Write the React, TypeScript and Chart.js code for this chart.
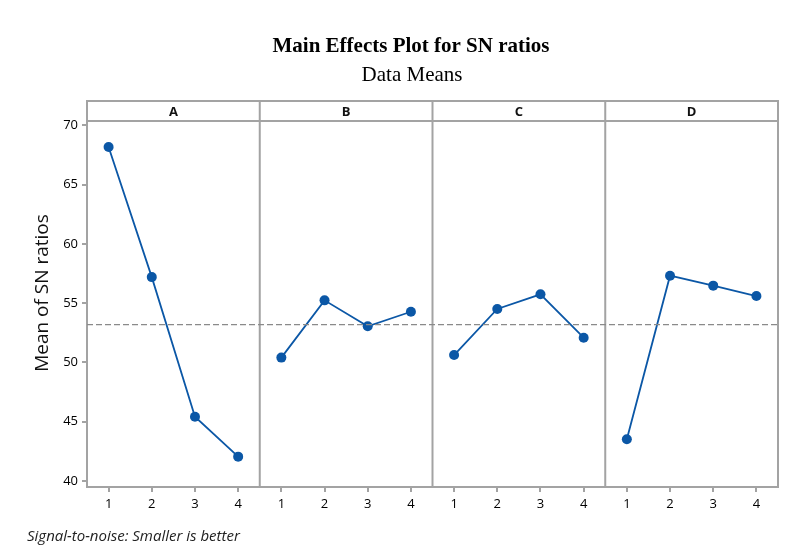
import React, { useEffect, useRef } from "react";
import { Chart, registerables } from "chart.js";

Chart.register(...registerables);

const titleText = "Main Effects Plot for SN ratios";
const subtitleText = "Data Means";
const yAxisTitle = "Mean of SN ratios";
const footnote = "Signal-to-noise: Smaller is better";

const factors = ["A", "B", "C", "D"];
const levels = ["1", "2", "3", "4"];
const meansA = [68.17, 57.2, 45.43, 42.06];
const meansB = [50.41, 55.24, 53.05, 54.28];
const meansC = [50.63, 54.51, 55.75, 52.09];
const meansD = [43.52, 57.32, 56.48, 55.6];
const seriesMeans = [meansA, meansB, meansC, meansD];
const grandMean = 53.19;
const yTicks = [40, 45, 50, 55, 60, 65, 70];

const BLUE = "#0b57a6";
const FRAME = "#a3a3a3";

export default function App() {
  const ref = useRef<HTMLCanvasElement | null>(null);

  useEffect(() => {
    if (!ref.current) return;
    const n = levels.length;
    const xMin = 0.5;
    const xMax = factors.length * n + 0.5;
    const tickPositions = factors.flatMap((_, i) => levels.map((_, j) => i * n + j + 1));

    const datasets: any[] = seriesMeans.map((vals, i) => ({
      label: factors[i],
      data: vals.map((v, j) => ({ x: i * n + j + 1, y: v })),
      borderColor: BLUE,
      backgroundColor: BLUE,
      borderWidth: 1.8,
      pointRadius: 5,
      pointBorderWidth: 0,
      pointBackgroundColor: BLUE,
      tension: 0,
    }));
    datasets.unshift({
      label: "mean",
      data: [
        { x: xMin, y: grandMean },
        { x: xMax, y: grandMean },
      ],
      borderColor: "#8a8a8a",
      borderWidth: 1.4,
      borderDash: [6, 3],
      pointRadius: 0,
    });

    const panelPlugin = {
      id: "panels",
      beforeDatasetsDraw(chart: any) {
        const ctx = chart.ctx;
        const { left, right, top, bottom } = chart.chartArea;
        const xs = chart.scales.x;
        const headerH = 20;
        ctx.save();
        ctx.strokeStyle = FRAME;
        ctx.lineWidth = 2;
        ctx.strokeRect(left, top, right - left, bottom - top);
        ctx.beginPath();
        ctx.moveTo(left, top + headerH);
        ctx.lineTo(right, top + headerH);
        for (let i = 1; i < factors.length; i++) {
          const px = xs.getPixelForValue(i * n + 0.5);
          ctx.moveTo(px, top);
          ctx.lineTo(px, bottom);
        }
        ctx.stroke();
        ctx.fillStyle = "#111";
        ctx.font = "bold 13px 'Open Sans', sans-serif";
        ctx.textAlign = "center";
        ctx.textBaseline = "middle";
        factors.forEach((f, i) => {
          const cx = xs.getPixelForValue(i * n + (n + 1) / 2);
          ctx.fillText(f, cx, top + headerH / 2 + 1);
        });
        ctx.restore();
      },
      afterDraw(chart: any) {
        const ctx = chart.ctx;
        ctx.save();
        ctx.fillStyle = "#000";
        ctx.textAlign = "center";
        ctx.textBaseline = "middle";
        ctx.font = "bold 21px 'Liberation Serif', 'Times New Roman', serif";
        ctx.fillText(titleText, 411, 47);
        ctx.font = "21px 'Liberation Serif', 'Times New Roman', serif";
        ctx.fillText(subtitleText, 412, 75);
        ctx.save();
        ctx.translate(43, 293);
        ctx.rotate(-Math.PI / 2);
        ctx.font = "19px 'Open Sans', sans-serif";
        ctx.fillStyle = "#111";
        ctx.fillText(yAxisTitle, 0, 0);
        ctx.restore();
        ctx.textAlign = "left";
        ctx.font = "italic 15px 'Open Sans', sans-serif";
        ctx.fillStyle = "#222";
        ctx.fillText(footnote, 27, 537);
        ctx.restore();
      },
    };

    const chart = new Chart(ref.current, {
      type: "line",
      data: { datasets },
      options: {
        animation: false,
        responsive: false,
        maintainAspectRatio: false,
        layout: { padding: { top: 101, left: 0, right: 26, bottom: 34 } },
        plugins: { legend: { display: false }, tooltip: { enabled: false }, title: { display: false } },
        scales: {
          x: {
            type: "linear",
            min: xMin,
            max: xMax,
            afterBuildTicks: (scale: any) => {
              scale.ticks = tickPositions.map((v) => ({ value: v }));
            },
            afterFit: (scale: any) => {
              scale.height = 30;
            },
            ticks: {
              autoSkip: false,
              maxRotation: 0,
              padding: 4,
              color: "#000",
              font: { family: "'Open Sans', sans-serif", size: 13 },
              callback: (v: any) => levels[(Math.round(Number(v)) - 1) % n],
            },
            grid: { display: true, drawOnChartArea: false, drawTicks: true, tickLength: 5, color: FRAME, lineWidth: 2 },
            border: { display: false },
          },
          y: {
            type: "linear",
            min: 39.5,
            max: 72.05,
            afterBuildTicks: (scale: any) => {
              scale.ticks = yTicks.map((v) => ({ value: v }));
            },
            afterFit: (scale: any) => {
              scale.width = 87;
            },
            ticks: {
              padding: 4,
              color: "#000",
              font: { family: "'Open Sans', sans-serif", size: 13 },
            },
            grid: { display: true, drawOnChartArea: false, drawTicks: true, tickLength: 5, color: FRAME, lineWidth: 2 },
            border: { display: false },
          },
        },
      },
      plugins: [panelPlugin],
    });
    return () => chart.destroy();
  }, []);

  return (
    <div style={{ position: "absolute", left: 0, top: 0, width: 804, height: 551, background: "#fff" }}>
      <canvas ref={ref} width={804} height={551} style={{ width: 804, height: 551, display: "block" }} />
    </div>
  );
}
